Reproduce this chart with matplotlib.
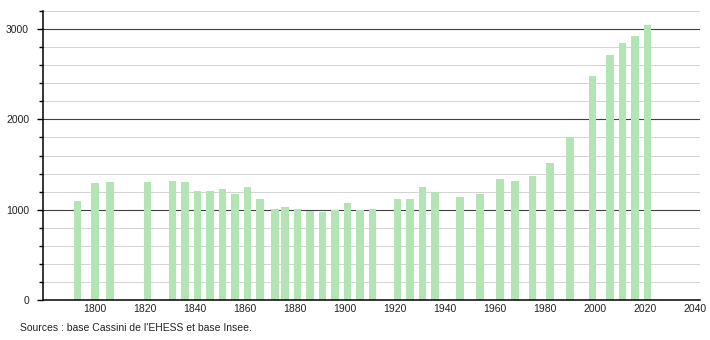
import matplotlib.pyplot as plt
from matplotlib.ticker import MultipleLocator

plt.rcParams['font.family'] = ['Liberation Sans', 'DejaVu Sans']

# années de recensement et population
annees = [1793, 1800, 1806, 1821, 1831, 1836, 1841, 1846, 1851, 1856,
          1861, 1866, 1872, 1876, 1881, 1886, 1891, 1896, 1901, 1906,
          1911, 1921, 1926, 1931, 1936, 1946, 1954, 1962, 1968, 1975,
          1982, 1990, 1999, 2006, 2011, 2016, 2021]
population = [1096, 1292, 1303, 1303, 1314, 1303, 1211, 1204, 1229, 1174,
              1248, 1115, 1008, 1030, 1008, 989, 978, 993, 1070, 993,
              1008, 1115, 1118, 1255, 1200, 1144, 1177, 1340, 1321, 1373,
              1520, 1802, 2481, 2713, 2843, 2924, 3042]
x_ticks = [1800, 1820, 1840, 1860, 1880, 1900, 1920, 1940, 1960, 1980, 2000, 2020, 2040]
y_ticks = [0, 1000, 2000, 3000]
source = "Sources : base Cassini de l'EHESS et base Insee."

fig = plt.figure(figsize=(7.1, 3.4), dpi=100)
ax = fig.add_axes([43 / 710, 40 / 340, 657 / 710, 289 / 340])

# grille : fine tous les 200, foncée tous les 1000
for v in range(200, 3201, 200):
    if v % 1000 == 0:
        ax.axhline(v, color='#404040', lw=0.8, zorder=1)
    else:
        ax.axhline(v, color='#d2d2d2', lw=0.7, zorder=1)

ax.bar(annees, population, width=3, color='#b3e4b3', zorder=2)

ax.set_xlim(1779.2, 2042)
ax.set_ylim(0, 3200)
ax.set_xticks(x_ticks)
ax.set_yticks(y_ticks)
ax.yaxis.set_minor_locator(MultipleLocator(200))
ax.tick_params(axis='x', length=0, pad=3, labelsize=7.5, colors='#222222')
ax.tick_params(axis='y', which='major', length=4, width=1, pad=6, labelsize=7.5, colors='black')
ax.tick_params(axis='y', which='minor', length=3, width=1)
for lab in ax.get_yticklabels():
    lab.set_color('#222222')

for s in ['top', 'right']:
    ax.spines[s].set_visible(False)
ax.spines['left'].set_linewidth(1.1)
ax.spines['bottom'].set_linewidth(1.1)

fig.text(20 / 710, 1 - 328 / 340, source, fontsize=7.5, color='#222222', va='center')

fig.savefig('out.png', dpi=100)
